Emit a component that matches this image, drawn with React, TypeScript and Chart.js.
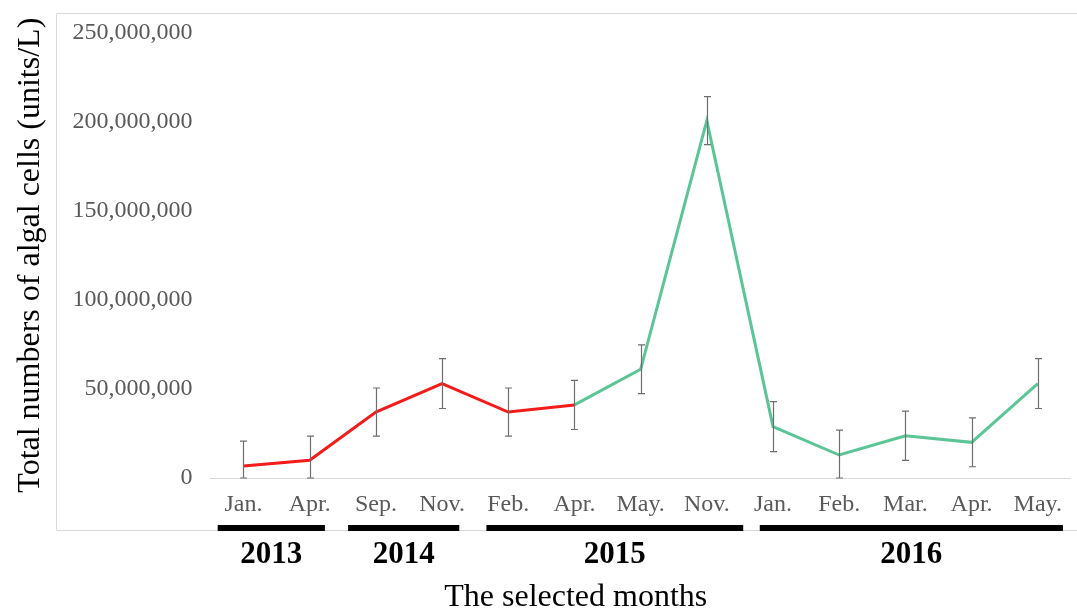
import React, { useEffect, useRef } from "react";
import { Chart, registerables } from "chart.js";

Chart.register(...registerables);

const months = ["Jan.", "Apr.", "Sep.", "Nov.", "Feb.", "Apr.", "May.", "Nov.", "Jan.", "Feb.", "Mar.", "Apr.", "May."];
const totals = [6.7e6, 10e6, 37e6, 53e6, 37e6, 41e6, 61e6, 200.5e6, 28.8e6, 12.9e6, 23.7e6, 20e6, 53e6];
const errors = [14e6, 13.5e6, 13.5e6, 14e6, 13.5e6, 13.8e6, 13.7e6, 13.5e6, 14e6, 14e6, 13.8e6, 13.7e6, 14e6];
const redSegment = [0, 5]; // index range of the red part
// year groups: extent of the black bar in category units
const yearGroups = [
  { year: "2013", from: -0.39, to: 1.23 },
  { year: "2014", from: 1.58, to: 3.26 },
  { year: "2015", from: 3.67, to: 7.55 },
  { year: "2016", from: 7.8, to: 12.38 },
];
const yTicks = [0, 50e6, 100e6, 150e6, 200e6, 250e6];
const xTitle = "The selected months";
const yTitle = "Total numbers of algal cells (units/L)";

const SERIF = "'Liberation Serif', 'Times New Roman', serif";

const redData = totals.map((v, i) => (i >= redSegment[0] && i <= redSegment[1] ? v : null));
const greenData = totals.map((v, i) => (i >= redSegment[1] ? v : null));

const decorPlugin = {
  id: "decor",
  beforeDraw(chart: any) {
    const ctx = chart.ctx;
    ctx.save();
    ctx.strokeStyle = "#d9d9d9";
    ctx.lineWidth = 1;
    ctx.beginPath();
    ctx.moveTo(1100, 13.5);
    ctx.lineTo(56.5, 13.5);
    ctx.lineTo(56.5, 530.5);
    ctx.lineTo(1100, 530.5);
    ctx.stroke();
    ctx.restore();
  },
  afterDatasetsDraw(chart: any) {
    const ctx = chart.ctx;
    const x = chart.scales.x;
    const y = chart.scales.y;
    ctx.save();
    ctx.strokeStyle = "#6e6e6e";
    ctx.lineWidth = 1.2;
    totals.forEach((v, i) => {
      const px = Math.round(x.getPixelForValue(i)) + 0.5;
      const top = y.getPixelForValue(v + errors[i]);
      const bot = y.getPixelForValue(Math.max(0, v - errors[i]));
      ctx.beginPath();
      ctx.moveTo(px, top);
      ctx.lineTo(px, bot);
      ctx.moveTo(px - 3.5, top);
      ctx.lineTo(px + 3.5, top);
      ctx.moveTo(px - 3.5, bot);
      ctx.lineTo(px + 3.5, bot);
      ctx.stroke();
    });
    ctx.restore();
  },
  afterDraw(chart: any) {
    const ctx = chart.ctx;
    const x = chart.scales.x;
    const base = chart.chartArea.bottom;
    const p0 = x.getPixelForValue(0);
    const step = x.getPixelForValue(1) - p0;
    const catPx = (c: number) => p0 + c * step;
    ctx.save();
    yearGroups.forEach((g) => {
      const x0 = catPx(g.from);
      const x1 = catPx(g.to);
      ctx.fillStyle = "#000";
      ctx.fillRect(x0, base + 47, x1 - x0, 6);
      ctx.font = `bold 31px ${SERIF}`;
      ctx.textAlign = "center";
      ctx.textBaseline = "middle";
      ctx.fillText(g.year, (x0 + x1) / 2, base + 77);
    });
    ctx.font = `32px ${SERIF}`;
    ctx.fillStyle = "#000";
    ctx.textAlign = "center";
    ctx.textBaseline = "middle";
    ctx.fillText(xTitle, catPx(5) + 0.02 * step, chart.height - 11);
    ctx.restore();
  },
};

export default function App() {
  const ref = useRef<HTMLCanvasElement>(null);
  useEffect(() => {
    if (!ref.current) return;
    const chart = new Chart(ref.current, {
      type: "line",
      data: {
        labels: months,
        datasets: [
          {
            data: redData,
            borderColor: "#f41b1b",
            borderWidth: 3,
            pointRadius: 0,
            tension: 0,
            spanGaps: false,
          },
          {
            data: greenData,
            borderColor: "#5bc595",
            borderWidth: 3,
            pointRadius: 0,
            tension: 0,
            spanGaps: false,
          },
        ],
      },
      options: {
        animation: false,
        responsive: true,
        maintainAspectRatio: false,
        layout: { padding: { top: 30, right: -2, left: 0, bottom: 77 } },
        plugins: { legend: { display: false }, tooltip: { enabled: false } },
        scales: {
          x: {
            offset: true,
            grid: { display: false, drawTicks: false },
            border: { display: false },
            ticks: {
              color: "#595959",
              font: { family: SERIF, size: 24, lineHeight: 1.0 },
              padding: 15,
              maxRotation: 0,
              autoSkip: false,
            },
          },
          y: {
            min: 0,
            max: 250e6,
            afterBuildTicks: (axis: any) => {
              axis.ticks = yTicks.map((v) => ({ value: v }));
            },
            grid: {
              drawTicks: false,
              color: (c: any) => (c.tick && c.tick.value === 0 ? "#d9d9d9" : "rgba(0,0,0,0)"),
            },
            border: { display: false },
            ticks: {
              color: "#595959",
              font: { family: SERIF, size: 24 },
              padding: 18,
              callback: (v: any) => Number(v).toLocaleString("en-US"),
            },
            title: {
              display: true,
              text: yTitle,
              color: "#000",
              font: { family: SERIF, size: 32 },
              padding: { top: 11, bottom: 5 },
            },
          },
        },
      },
      plugins: [decorPlugin],
    });
    return () => chart.destroy();
  }, []);
  return (
    <div style={{ position: "fixed", left: 0, top: 0, width: 1077, height: 609, background: "#fff" }}>
      <canvas ref={ref} />
    </div>
  );
}
